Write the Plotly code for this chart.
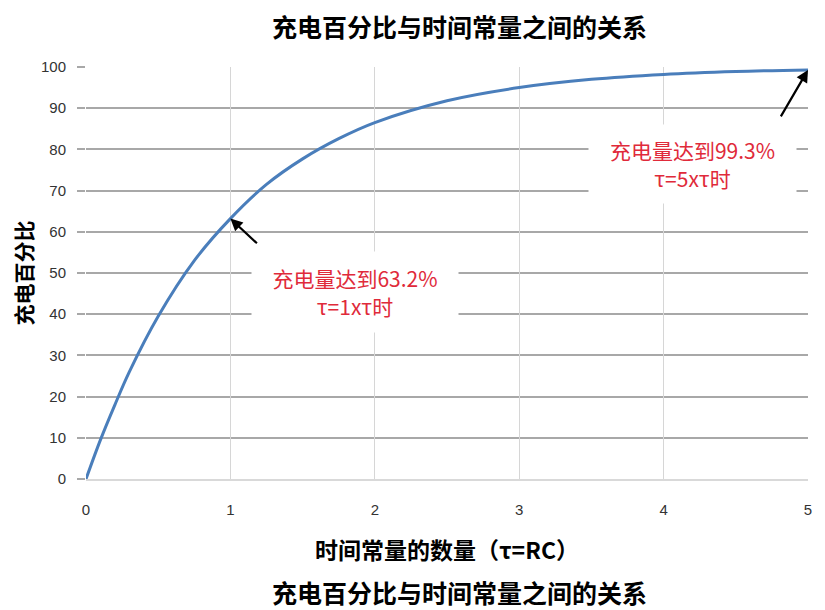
import plotly.graph_objects as go

# values (number of time constants vs % charge)
tau = [0, 0.1, 0.2, 0.3, 0.5, 0.75, 1, 1.25, 1.5, 1.75, 2, 2.5, 3, 3.5, 4, 4.5, 5]
charge = [0, 9.5, 18, 26, 39.5, 53, 63.2, 71.5, 77.7, 82.6, 86.5, 91.8, 95, 97, 98.2, 98.9, 99.3]

x_ticks = [0, 1, 2, 3, 4, 5]
y_ticks = [0, 10, 20, 30, 40, 50, 60, 70, 80, 90, 100]
y_grid = [10, 20, 30, 40, 50, 60, 70, 80, 90]

title = "充电百分比与时间常量之间的关系"
x_title = "时间常量的数量（τ=RC）"
y_title = "充电百分比"

# marked points and their labels
mark_x = [1, 5]
mark_y = [63.2, 99.3]
mark_text = ["充电量达到63.2%<br>τ=1xτ时", "充电量达到99.3%<br>τ=5xτ时"]

cjk = "Noto Sans CJK SC"
red = "#e02a3a"
tick_font = dict(family="Liberation Sans Narrow, Arial", size=15, color="#333333")

fig = go.Figure()
fig.add_trace(
    go.Scatter(
        x=tau,
        y=charge,
        mode="lines",
        line=dict(color="#4a7ebb", width=3, shape="spline"),
        showlegend=False,
    )
)

# arrows pointing at the marked points
arrow_offsets = [(28, 26), (-28, 48)]
for mx, my, (ax, ay) in zip(mark_x, mark_y, arrow_offsets):
    fig.add_annotation(
        x=mx, y=my, text="", showarrow=True,
        ax=ax, ay=ay,
        arrowhead=2, arrowsize=1.1, arrowwidth=2.2, arrowcolor="black",
    )

# text boxes (white background hides the grid)
box_pos = [(1.86, 45.5, 204, 78), (4.2, 76.5, 205, 76)]
for txt, (bx, by, bw, bh) in zip(mark_text, box_pos):
    fig.add_annotation(
        x=bx, y=by, text=txt, showarrow=False,
        width=bw, height=bh, bgcolor="white",
        font=dict(family=cjk, size=21, color=red),
        align="center",
    )

# title above and caption under the chart
for ypos, shift in [(1, 41), (0, -113)]:
    fig.add_annotation(
        x=0.5, y=ypos, xref="paper", yref="paper",
        xshift=12, yshift=shift, yanchor="middle",
        text="<b>" + title + "</b>", showarrow=False,
        font=dict(family=cjk, size=25, color="black"),
    )

# the page adds an 8px body margin, so margins are set 8px smaller on top/left
fig.update_layout(
    width=825,
    height=610,
    margin=dict(l=78, r=25, t=59, b=139),
    paper_bgcolor="white",
    plot_bgcolor="white",
    xaxis=dict(
        range=[0, 5],
        tickvals=x_ticks,
        automargin=False,
        showgrid=True, gridcolor="#d6d6d6", gridwidth=1.3,
        zeroline=False,
        showline=True, linecolor="#d9d9d9", linewidth=1.5,
        ticks="", ticklabelstandoff=16,
        tickfont=tick_font,
        title=dict(
            text="<b>" + x_title + "</b>", standoff=26,
            font=dict(family=cjk, size=23, color="black"),
        ),
    ),
    yaxis=dict(
        range=[0, 100],
        tickvals=y_ticks,
        automargin=False,
        showgrid=False,
        zeroline=False,
        ticks="outside", ticklen=8, tickcolor="#a8a8a8", tickwidth=1.5,
        ticklabelstandoff=8,
        tickfont=tick_font,
        minor=dict(
            tickvals=y_grid, showgrid=True, gridcolor="#a8a8a8", gridwidth=1.5,
            ticks="outside", ticklen=8, tickcolor="#a8a8a8", tickwidth=1.5,
        ),
        title=dict(
            text="<b>" + y_title + "</b>", standoff=26,
            font=dict(family=cjk, size=21, color="black"),
        ),
    ),
)

fig.write_html("out.html")
